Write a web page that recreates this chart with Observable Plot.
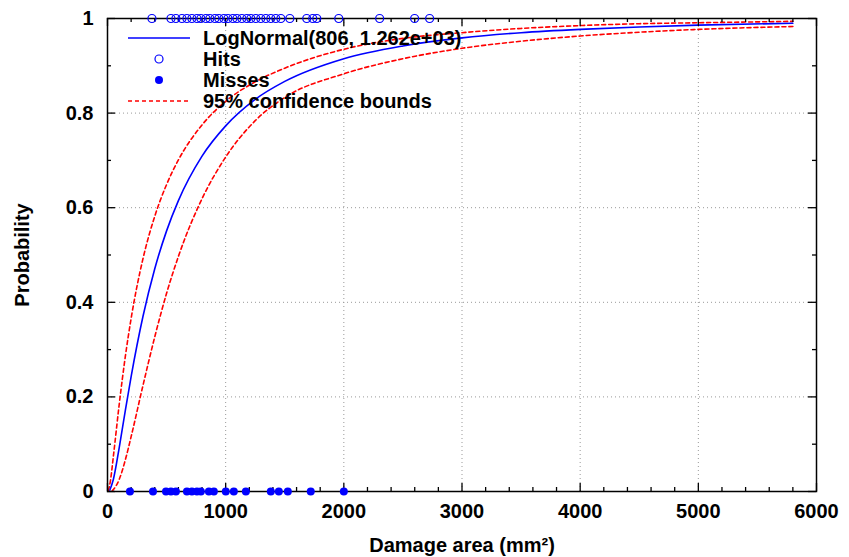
<!DOCTYPE html>
<html><head><meta charset="utf-8">
<script src="https://cdn.jsdelivr.net/npm/d3@7"></script>
<script src="https://cdn.jsdelivr.net/npm/@observablehq/plot@0.6"></script>
<style>
body{margin:0;background:#fff}
#chart{position:relative;width:849px;height:557px}
</style>
</head><body><div id="chart"></div>
<script>
// ---- data ----
const fitLabel = "LogNormal(806, 1.262e+03)";
const fitX = [20,50,100,150,200,300,400,500,600,800,1000,1250,1500,2000,2500,3000,3500,4000,4500,5000,5800];
const fitP = [0.003,0.026,0.094,0.170,0.243,0.370,0.471,0.551,0.615,0.709,0.773,0.829,0.867,0.915,0.942,0.959,0.970,0.977,0.982,0.986,0.990];
const upperX = [8,25,50,100,150,200,300,400,500,600,800,1000,1250,1500,2000,2500,3000,3500,4000,4500,5000,5800];
const upperP = [0.002,0.023,0.075,0.186,0.284,0.366,0.492,0.582,0.649,0.701,0.775,0.825,0.866,0.895,0.935,0.958,0.970,0.979,0.985,0.989,0.991,0.994];
const lowerX = [40,50,100,150,200,300,400,500,600,800,1000,1250,1500,2000,2500,3000,3500,4000,4500,5000,5800];
const lowerP = [0.001,0.004,0.026,0.066,0.116,0.224,0.327,0.419,0.497,0.619,0.707,0.784,0.833,0.883,0.915,0.937,0.952,0.963,0.971,0.977,0.983];
const hitsX = [376,537,579,630,672,714,757,790,833,866,909,942,985,1019,1061,1095,1137,1179,1213,1255,1297,1340,1382,1424,1467,1543,1686,1737,1771,1957,2303,2599,2726];
const missesX = [190,385,495,537,579,672,714,757,790,858,900,1001,1069,1171,1382,1450,1526,1720,2000];
const hitValue = 1, missValue = 0;
const xTicks = [0,1000,2000,3000,4000,5000,6000];
const xTickLabels = ["0","1000","2000","3000","4000","5000","6000"];
const xMinor = [200,400,600,800,1200,1400,1600,1800,2200,2400,2600,2800,3200,3400,3600,3800,4200,4400,4600,4800,5200,5400,5600,5800];
const yTicks = [0,0.2,0.4,0.6,0.8,1];
const yTickLabels = ["0","0.2","0.4","0.6","0.8","1"];
const yMinor = [0.1,0.3,0.5,0.7,0.9];
const xGrid = [1000,2000,3000,4000,5000];
const yGrid = [0.2,0.4,0.6,0.8];
const legendLabels = [fitLabel, "Hits", "Misses", "95% confidence bounds"];
const xTitle = "Damage area (mm\u00B2)";
const yTitle = "Probability";

// ---- build tables ----
const fitRows = fitX.map((x,i)=>({x, p: fitP[i]}));
const upperRows = upperX.map((x,i)=>({x, p: upperP[i]}));
const lowerRows = lowerX.map((x,i)=>({x, p: lowerP[i]}));
const hitRows = hitsX.map(x=>({x, y: hitValue}));
const missRows = missesX.map(x=>({x, y: missValue}));

const W=849, H=557, mL=107, mR=33, mT=18, mB=66;
const iw = W-mL-mR, ih = H-mT-mB;
const BLUE="#0000ff", RED="#ff0000";
const tick = ()=>({stroke:"#000", strokeWidth:1.3});

const chart = Plot.plot({
  width: W, height: H,
  marginLeft: mL, marginRight: mR, marginTop: mT, marginBottom: mB,
  style: {fontFamily: "'Liberation Sans', Arial, Helvetica, sans-serif", fontSize: "20px", fontWeight: "bold", color: "#000", background: "#fff"},
  x: {domain: [0,6000]},
  y: {domain: [0,1]},
  marks: [
    Plot.gridX(xGrid, {stroke:"#999", strokeOpacity:1, strokeWidth:1, strokeDasharray:"1,3"}),
    Plot.gridY(yGrid, {stroke:"#999", strokeOpacity:1, strokeWidth:1, strokeDasharray:"1,3"}),
    Plot.line(upperRows, {x:"x", y:"p", stroke:RED, strokeWidth:1.6, strokeDasharray:"4,3", curve:"monotone-x"}),
    Plot.line(lowerRows, {x:"x", y:"p", stroke:RED, strokeWidth:1.6, strokeDasharray:"4,3", curve:"monotone-x"}),
    Plot.line(fitRows, {x:"x", y:"p", stroke:BLUE, strokeWidth:1.6, curve:"monotone-x"}),
    Plot.frame({stroke:"#000", strokeWidth:1.5}),
    Plot.ruleX(xTicks, {...tick(), insetTop: ih-8}),
    Plot.ruleX(xTicks, {...tick(), insetBottom: ih-8}),
    Plot.ruleX(xMinor, {...tick(), insetTop: ih-4}),
    Plot.ruleX(xMinor, {...tick(), insetBottom: ih-4}),
    Plot.ruleY(yTicks, {...tick(), insetRight: iw-8}),
    Plot.ruleY(yTicks, {...tick(), insetLeft: iw-8}),
    Plot.ruleY(yMinor, {...tick(), insetRight: iw-4}),
    Plot.ruleY(yMinor, {...tick(), insetLeft: iw-4}),
    Plot.axisX(xTicks, {tickSize:0, tickPadding:12, tickFormat: d=>xTickLabels[xTicks.indexOf(d)],
      label: xTitle, labelAnchor:"center", labelOffset:60, labelArrow:"none"}),
    Plot.axisY(yTicks, {tickSize:0, tickPadding:14, tickFormat: d=>yTickLabels[yTicks.indexOf(d)],
      label: yTitle, labelAnchor:"center", labelOffset:93, labelArrow:"none"}),
    Plot.dot(hitRows, {x:"x", y:"y", r:4, stroke:BLUE, fill:"none", strokeWidth:1.2}),
    Plot.dot(missRows, {x:"x", y:"y", r:4, fill:BLUE, stroke:"none"})
  ]
});
document.getElementById("chart").appendChild(chart);

// ---- legend (inside the plot frame, top-left) ----
const svg = d3.select(chart);
const lg = svg.append("g").attr("font-family","'Liberation Sans', Arial, sans-serif").attr("font-size",20).attr("font-weight","bold").attr("text-anchor","start");
const rowsY = [38,59,80,101];
legendLabels.forEach((t,i)=>{
  lg.append("text").attr("x",203).attr("y",rowsY[i]).attr("dy","0.35em").attr("text-anchor","start").attr("fill","#000").text(t);
});
lg.append("line").attr("x1",128).attr("x2",190).attr("y1",rowsY[0]).attr("y2",rowsY[0]).attr("stroke",BLUE).attr("stroke-width",1.6);
lg.append("circle").attr("cx",159).attr("cy",rowsY[1]).attr("r",4).attr("fill","none").attr("stroke",BLUE).attr("stroke-width",1.2);
lg.append("circle").attr("cx",159).attr("cy",rowsY[2]).attr("r",4).attr("fill",BLUE);
lg.append("line").attr("x1",128).attr("x2",190).attr("y1",rowsY[3]).attr("y2",rowsY[3]).attr("stroke",RED).attr("stroke-width",1.6).attr("stroke-dasharray","4,3");
</script></body></html>
